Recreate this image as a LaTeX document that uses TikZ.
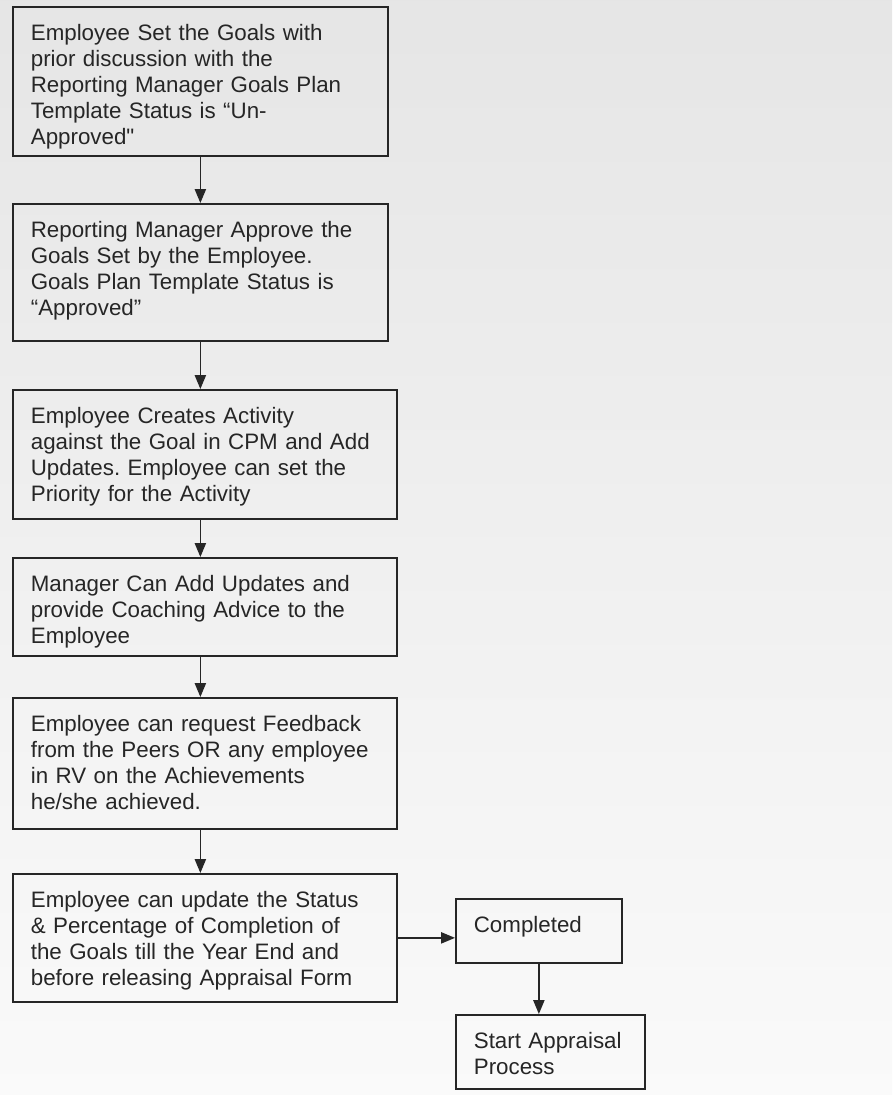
\documentclass[tikz,border=0pt]{standalone}
\usepackage{fontspec}
\setmainfont{Liberation Sans}
\usetikzlibrary{arrows.meta}
\frenchspacing

\begin{document}
\begin{tikzpicture}[x=0.75pt, y=-0.75pt,
    flowbox/.style={draw=black!85, line width=1.3pt, anchor=north west, align=left,
        font=\fontsize{16.75}{19.5}\selectfont, text=black!85,
        inner xsep=13.5pt, inner ysep=6pt, text height=19.5pt},
    flowarrow/.style={draw=black!85, line width=1pt, -{Triangle[length=10.5pt, width=8.5pt]}}]
    \useasboundingbox (0,0) rectangle (892,1095);
    \shade[top color=black!10, bottom color=black!2] (0,0) rectangle (892,1095);
    \node[flowbox, text width=254.25pt, text depth=80.25pt] (goals) at (12,6) {Employee Set the Goals with\\prior discussion with the\\Reporting Manager Goals Plan\\Template Status is “Un-\\Approved\textquotedbl};
    \node[flowbox, text width=254.25pt, text depth=71.25pt] (approve) at (12,203) {Reporting Manager Approve the\\Goals Set by the Employee.\\Goals Plan Template Status is\\“Approved”};
    \node[flowbox, text width=261pt, text depth=65.25pt] (activity) at (12,389) {Employee Creates Activity\\against the Goal in CPM and Add\\Updates. Employee can set the\\Priority for the Activity};
    \node[flowbox, text width=261pt, text depth=42pt] (coach) at (12,557) {Manager Can Add Updates and\\provide Coaching Advice to the\\Employee};
    \node[flowbox, text width=261pt, text depth=66.75pt] (feedback) at (12,697) {Employee can request Feedback\\from the Peers OR any employee\\in RV on the Achievements\\he/she achieved.};
    \node[flowbox, text width=261pt, text depth=64.5pt] (update) at (12,873) {Employee can update the Status\\\& Percentage of Completion of\\the Goals till the Year End and\\before releasing Appraisal Form};
    \node[flowbox, text width=97.5pt, text depth=16.5pt] (done) at (455,898) {Completed};
    \node[flowbox, text width=114.75pt, text depth=24pt] (appraisal) at (455,1014) {Start Appraisal\\Process};
    \draw[flowarrow] (goals.south) -- (approve.north);
    \draw[flowarrow] (approve.south) -- (approve.south |- activity.north);
    \draw[flowarrow] (activity.south -| goals.south) -- (coach.north -| goals.south);
    \draw[flowarrow] (coach.south -| goals.south) -- (feedback.north -| goals.south);
    \draw[flowarrow] (feedback.south -| goals.south) -- (update.north -| goals.south);
    \draw[flowarrow] (update.east) -- (update.east -| done.west);
    \draw[flowarrow] (done.south) -- (done.south |- appraisal.north);
\end{tikzpicture}
\end{document}
